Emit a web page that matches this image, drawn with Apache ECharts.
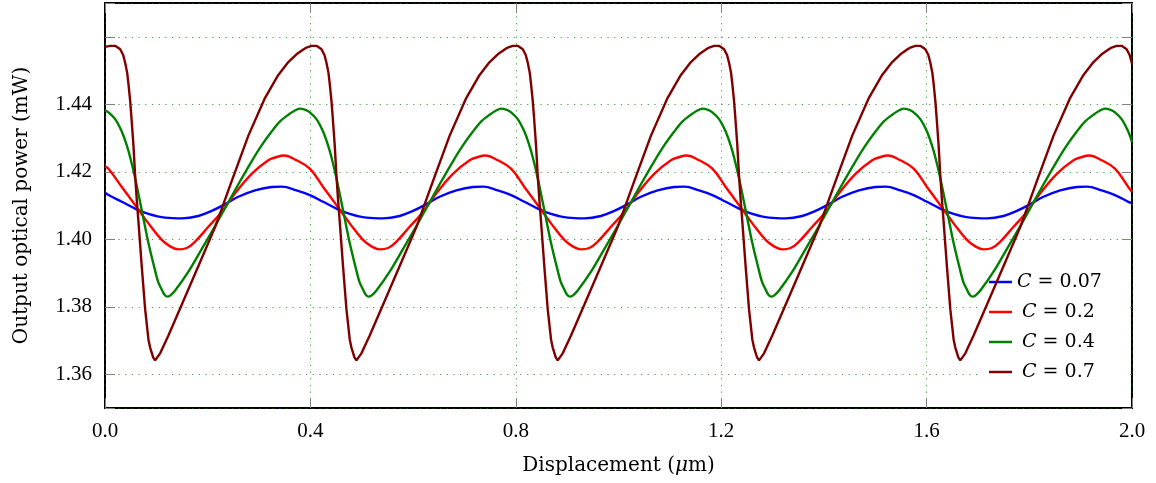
<!DOCTYPE html>
<html>
<head>
<meta charset="utf-8">
<script src="https://cdn.jsdelivr.net/npm/echarts@6/dist/echarts.min.js"></script>
<style>html,body{margin:0;padding:0;background:#fff;}#c{width:1156px;height:483px;}</style>
</head>
<body>
<div id="c"></div>
<script>
// ---- data: [displacement (um), power (mW)] ----
const seriesNames = ['C = 0.07', 'C = 0.2', 'C = 0.4', 'C = 0.7'];
const seriesColors = ['#0000ff', '#ff0000', '#008000', '#800000'];
const xTicks = [0, 0.4, 0.8, 1.2, 1.6, 2.0];
const yTickLabels = [1.36, 1.38, 1.40, 1.42, 1.44];

const c007 = [
[0,1.4138],[0.0068,1.4131],[0.0327,1.4111],[0.0587,1.4091],[0.0846,1.4075],[0.1171,1.4064],[0.1494,1.4062],[0.1819,1.4069],[0.2078,1.4084],[0.2338,1.4104],[0.2597,1.4126],[0.2922,1.4145],[0.3245,1.4155],
[0.3443,1.4156],[0.3729,1.4145],[0.3988,1.4131],[0.4247,1.4111],[0.4507,1.4091],[0.4766,1.4075],[0.5091,1.4064],[0.5414,1.4062],[0.5739,1.4069],[0.5998,1.4084],[0.6258,1.4104],[0.6517,1.4126],[0.6842,1.4145],[0.7165,1.4155],
[0.7363,1.4156],[0.7649,1.4145],[0.7908,1.4131],[0.8167,1.4111],[0.8427,1.4091],[0.8686,1.4075],[0.9011,1.4064],[0.9334,1.4062],[0.9659,1.4069],[0.9918,1.4084],[1.0178,1.4104],[1.0437,1.4126],[1.0762,1.4145],[1.1085,1.4155],
[1.1283,1.4156],[1.1569,1.4145],[1.1828,1.4131],[1.2087,1.4111],[1.2347,1.4091],[1.2606,1.4075],[1.2931,1.4064],[1.3254,1.4062],[1.3579,1.4069],[1.3838,1.4084],[1.4098,1.4104],[1.4357,1.4126],[1.4682,1.4145],[1.5005,1.4155],
[1.5203,1.4156],[1.5489,1.4145],[1.5748,1.4131],[1.6007,1.4111],[1.6267,1.4091],[1.6526,1.4075],[1.6851,1.4064],[1.7174,1.4062],[1.7499,1.4069],[1.7758,1.4084],[1.8018,1.4104],[1.8277,1.4126],[1.8602,1.4145],[1.8925,1.4155],
[1.9123,1.4156],[1.9409,1.4145],[1.9668,1.4131],[1.9927,1.4111],[2.0,1.4108]
];

const c02 = [
[0,1.4216],[0.0068,1.4209],[0.0327,1.4155],[0.0587,1.4101],[0.0846,1.4047],[0.1105,1.3998],[0.1268,1.3979],[0.1430,1.3970],[0.1591,1.3974],[0.1755,1.3993],[0.2013,1.4037],[0.2272,1.4081],[0.2533,1.4136],[0.2856,1.4194],[0.3181,1.4234],[0.3331,1.4243],
[0.3482,1.4248],[0.3729,1.4234],[0.3988,1.4209],[0.4247,1.4155],[0.4507,1.4101],[0.4766,1.4047],[0.5025,1.3998],[0.5188,1.3979],[0.5350,1.3970],[0.5511,1.3974],[0.5675,1.3993],[0.5933,1.4037],[0.6192,1.4081],[0.6453,1.4136],[0.6776,1.4194],[0.7101,1.4234],[0.7251,1.4243],
[0.7402,1.4248],[0.7649,1.4234],[0.7908,1.4209],[0.8167,1.4155],[0.8427,1.4101],[0.8686,1.4047],[0.8945,1.3998],[0.9108,1.3979],[0.9270,1.3970],[0.9431,1.3974],[0.9595,1.3993],[0.9853,1.4037],[1.0112,1.4081],[1.0373,1.4136],[1.0696,1.4194],[1.1021,1.4234],[1.1171,1.4243],
[1.1322,1.4248],[1.1569,1.4234],[1.1828,1.4209],[1.2087,1.4155],[1.2347,1.4101],[1.2606,1.4047],[1.2865,1.3998],[1.3028,1.3979],[1.3190,1.3970],[1.3351,1.3974],[1.3515,1.3993],[1.3773,1.4037],[1.4032,1.4081],[1.4293,1.4136],[1.4616,1.4194],[1.4941,1.4234],[1.5091,1.4243],
[1.5242,1.4248],[1.5489,1.4234],[1.5748,1.4209],[1.6007,1.4155],[1.6267,1.4101],[1.6526,1.4047],[1.6785,1.3998],[1.6948,1.3979],[1.7110,1.3970],[1.7271,1.3974],[1.7435,1.3993],[1.7693,1.4037],[1.7952,1.4081],[1.8213,1.4136],[1.8536,1.4194],[1.8861,1.4234],[1.9011,1.4243],
[1.9162,1.4248],[1.9409,1.4234],[1.9668,1.4209],[1.9927,1.4155],[2.0,1.4140]
];

const c04 = [
[0,1.4382],[0.0068,1.4376],[0.0198,1.4356],[0.0327,1.4319],[0.0424,1.4278],[0.0490,1.4243],[0.0587,1.4181],[0.0716,1.4086],[0.0846,1.3989],[0.0976,1.3907],[0.1035,1.3874],[0.1105,1.3851],[0.1152,1.3837],[0.1210,1.3830],[0.1268,1.3833],[0.1366,1.3848],[0.1624,1.3904],[0.1883,1.3971],[0.2144,1.4039],[0.2338,1.4092],[0.2597,1.4163],[0.2856,1.4231],[0.3050,1.4278],[0.3245,1.4319],[0.3408,1.4349],[0.3570,1.4369],[0.3681,1.4380],
[0.3793,1.4387],[0.3904,1.4383],[0.3988,1.4376],[0.4118,1.4356],[0.4247,1.4319],[0.4344,1.4278],[0.4410,1.4243],[0.4507,1.4181],[0.4636,1.4086],[0.4766,1.3989],[0.4896,1.3907],[0.4955,1.3874],[0.5025,1.3851],[0.5072,1.3837],[0.5130,1.3830],[0.5188,1.3833],[0.5286,1.3848],[0.5544,1.3904],[0.5803,1.3971],[0.6064,1.4039],[0.6258,1.4092],[0.6517,1.4163],[0.6776,1.4231],[0.6970,1.4278],[0.7165,1.4319],[0.7328,1.4349],[0.7490,1.4369],[0.7601,1.4380],
[0.7713,1.4387],[0.7824,1.4383],[0.7908,1.4376],[0.8038,1.4356],[0.8167,1.4319],[0.8264,1.4278],[0.8330,1.4243],[0.8427,1.4181],[0.8556,1.4086],[0.8686,1.3989],[0.8816,1.3907],[0.8875,1.3874],[0.8945,1.3851],[0.8992,1.3837],[0.9050,1.3830],[0.9108,1.3833],[0.9206,1.3848],[0.9464,1.3904],[0.9723,1.3971],[0.9984,1.4039],[1.0178,1.4092],[1.0437,1.4163],[1.0696,1.4231],[1.0890,1.4278],[1.1085,1.4319],[1.1248,1.4349],[1.1410,1.4369],[1.1521,1.4380],
[1.1633,1.4387],[1.1744,1.4383],[1.1828,1.4376],[1.1958,1.4356],[1.2087,1.4319],[1.2184,1.4278],[1.2250,1.4243],[1.2347,1.4181],[1.2476,1.4086],[1.2606,1.3989],[1.2736,1.3907],[1.2795,1.3874],[1.2865,1.3851],[1.2912,1.3837],[1.2970,1.3830],[1.3028,1.3833],[1.3126,1.3848],[1.3384,1.3904],[1.3643,1.3971],[1.3904,1.4039],[1.4098,1.4092],[1.4357,1.4163],[1.4616,1.4231],[1.4810,1.4278],[1.5005,1.4319],[1.5168,1.4349],[1.5330,1.4369],[1.5441,1.4380],
[1.5553,1.4387],[1.5664,1.4383],[1.5748,1.4376],[1.5878,1.4356],[1.6007,1.4319],[1.6104,1.4278],[1.6170,1.4243],[1.6267,1.4181],[1.6396,1.4086],[1.6526,1.3989],[1.6656,1.3907],[1.6715,1.3874],[1.6785,1.3851],[1.6832,1.3837],[1.6890,1.3830],[1.6948,1.3833],[1.7046,1.3848],[1.7304,1.3904],[1.7563,1.3971],[1.7824,1.4039],[1.8018,1.4092],[1.8277,1.4163],[1.8536,1.4231],[1.8730,1.4278],[1.8925,1.4319],[1.9088,1.4349],[1.9250,1.4369],[1.9361,1.4380],
[1.9473,1.4387],[1.9584,1.4383],[1.9668,1.4376],[1.9798,1.4356],[1.9927,1.4319],[2.0,1.4288]
];

const c07 = [
[0,1.4570],[0.0101,1.4573],[0.0198,1.4573],[0.0296,1.4563],[0.0354,1.4546],[0.0393,1.4523],[0.0432,1.4493],[0.0457,1.4460],[0.0490,1.4410],[0.0510,1.4371],[0.0529,1.4331],[0.0554,1.4278],[0.0587,1.4189],[0.0619,1.4116],[0.0652,1.4051],[0.0716,1.3919],[0.0782,1.3792],[0.0846,1.3703],[0.0879,1.3679],[0.0938,1.3650],[0.0976,1.3641],[0.1074,1.3662],[0.1235,1.3715],[0.1494,1.3806],[0.1819,1.3921],[0.2144,1.4036],[0.2467,1.4172],[0.2792,1.4307],[0.3117,1.4419],[0.3375,1.4487],[0.3570,1.4525],[0.3729,1.4548],[0.3862,1.4562],[0.3924,1.4568],
[0.4021,1.4573],[0.4118,1.4573],[0.4216,1.4563],[0.4274,1.4546],[0.4313,1.4523],[0.4352,1.4493],[0.4377,1.4460],[0.4410,1.4410],[0.4430,1.4371],[0.4449,1.4331],[0.4474,1.4278],[0.4507,1.4189],[0.4539,1.4116],[0.4572,1.4051],[0.4636,1.3919],[0.4702,1.3792],[0.4766,1.3703],[0.4799,1.3679],[0.4858,1.3650],[0.4896,1.3641],[0.4994,1.3662],[0.5155,1.3715],[0.5414,1.3806],[0.5739,1.3921],[0.6064,1.4036],[0.6387,1.4172],[0.6712,1.4307],[0.7037,1.4419],[0.7295,1.4487],[0.7490,1.4525],[0.7649,1.4548],[0.7782,1.4562],[0.7844,1.4568],
[0.7941,1.4573],[0.8038,1.4573],[0.8136,1.4563],[0.8194,1.4546],[0.8233,1.4523],[0.8272,1.4493],[0.8297,1.4460],[0.8330,1.4410],[0.8350,1.4371],[0.8369,1.4331],[0.8394,1.4278],[0.8427,1.4189],[0.8459,1.4116],[0.8492,1.4051],[0.8556,1.3919],[0.8622,1.3792],[0.8686,1.3703],[0.8719,1.3679],[0.8778,1.3650],[0.8816,1.3641],[0.8914,1.3662],[0.9075,1.3715],[0.9334,1.3806],[0.9659,1.3921],[0.9984,1.4036],[1.0307,1.4172],[1.0632,1.4307],[1.0957,1.4419],[1.1215,1.4487],[1.1410,1.4525],[1.1569,1.4548],[1.1702,1.4562],[1.1764,1.4568],
[1.1861,1.4573],[1.1958,1.4573],[1.2056,1.4563],[1.2114,1.4546],[1.2153,1.4523],[1.2192,1.4493],[1.2217,1.4460],[1.2250,1.4410],[1.2270,1.4371],[1.2289,1.4331],[1.2314,1.4278],[1.2347,1.4189],[1.2379,1.4116],[1.2412,1.4051],[1.2476,1.3919],[1.2542,1.3792],[1.2606,1.3703],[1.2639,1.3679],[1.2698,1.3650],[1.2736,1.3641],[1.2834,1.3662],[1.2995,1.3715],[1.3254,1.3806],[1.3579,1.3921],[1.3904,1.4036],[1.4227,1.4172],[1.4552,1.4307],[1.4877,1.4419],[1.5135,1.4487],[1.5330,1.4525],[1.5489,1.4548],[1.5622,1.4562],[1.5684,1.4568],
[1.5781,1.4573],[1.5878,1.4573],[1.5976,1.4563],[1.6034,1.4546],[1.6073,1.4523],[1.6112,1.4493],[1.6137,1.4460],[1.6170,1.4410],[1.6190,1.4371],[1.6209,1.4331],[1.6234,1.4278],[1.6267,1.4189],[1.6299,1.4116],[1.6332,1.4051],[1.6396,1.3919],[1.6462,1.3792],[1.6526,1.3703],[1.6559,1.3679],[1.6618,1.3650],[1.6656,1.3641],[1.6754,1.3662],[1.6915,1.3715],[1.7174,1.3806],[1.7499,1.3921],[1.7824,1.4036],[1.8147,1.4172],[1.8472,1.4307],[1.8797,1.4419],[1.9055,1.4487],[1.9250,1.4525],[1.9409,1.4548],[1.9542,1.4562],[1.9604,1.4568],
[1.9701,1.4573],[1.9798,1.4573],[1.9896,1.4563],[1.9954,1.4546],[2.0,1.4520]
];

const seriesData = [c007, c02, c04, c07];
const seriesSmooth = [0.4, 0.4, 0.3, false];

// ---- chart ----
const chart = echarts.init(document.getElementById('c'), null, {renderer: 'canvas'});
const gridDot = {color: 'rgba(0,128,0,0.75)', width: 1, type: [1.2, 5.5]};
const tickStyle = () => ({show: true, inside: true, length: 10, lineStyle: {color: '#808080', width: 1}});
const tickFont = {fontFamily: 'Liberation Serif', fontSize: 21, color: '#000'};

function yLabel(v) {
  for (const t of yTickLabels) { if (Math.abs(v - t) < 1e-6) return t.toFixed(2); }
  return '';
}

const option = {
  animation: false,
  backgroundColor: '#fff',
  grid: {left: 105, top: 3, width: 1027, height: 405, show: true, borderColor: '#000', borderWidth: 2, backgroundColor: 'transparent'},
  xAxis: [
    {type: 'value', min: xTicks[0], max: xTicks[xTicks.length - 1], interval: 0.4, position: 'bottom',
     axisLine: {show: false, onZero: false}, axisTick: tickStyle(),
     axisLabel: Object.assign({margin: 13, formatter: v => v.toFixed(1)}, tickFont),
     splitLine: {show: true, lineStyle: gridDot},
     name: 'Displacement ({i|\u03bc}m)', nameLocation: 'middle', nameGap: 48,
     nameTextStyle: {fontFamily: 'DejaVu Serif', fontSize: 20, color: '#000',
       rich: {i: {fontFamily: 'DejaVu Serif', fontStyle: 'italic', fontSize: 20, color: '#000'}}}},
    {type: 'value', min: xTicks[0], max: xTicks[xTicks.length - 1], interval: 0.4, position: 'top',
     axisLine: {show: false, onZero: false}, axisTick: tickStyle(), axisLabel: {show: false}, splitLine: {show: false}}
  ],
  yAxis: [
    {type: 'value', min: 1.35, max: 1.47, splitNumber: 6, position: 'left',
     axisLine: {show: false, onZero: false}, axisTick: tickStyle(),
     axisLabel: Object.assign({margin: 13, formatter: yLabel}, tickFont),
     splitLine: {show: true, lineStyle: gridDot},
     name: 'Output optical power (mW)', nameLocation: 'middle', nameGap: 73,
     nameTextStyle: {fontFamily: 'DejaVu Serif', fontSize: 20, color: '#000'}},
    {type: 'value', min: 1.35, max: 1.47, splitNumber: 6, position: 'right',
     axisLine: {show: false, onZero: false}, axisTick: tickStyle(), axisLabel: {show: false}, splitLine: {show: false}}
  ],
  legend: {
    orient: 'vertical', left: 980, top: 262, padding: [10, 28, 10, 9],
    backgroundColor: '#fff', borderWidth: 0, icon: 'rect', itemWidth: 23, itemHeight: 2.5, itemGap: 10,
    data: seriesNames,
    formatter: function (name) {
      const val = name.split('= ')[1];
      return (val.length < 4 ? '{s| }' : '') + '{i|C}{t| = ' + val + '}';
    },
    textStyle: {fontFamily: 'DejaVu Serif', fontSize: 19, color: '#000', lineHeight: 20,
      rich: {
        i: {fontFamily: 'DejaVu Serif', fontStyle: 'italic', fontSize: 19, color: '#000', lineHeight: 20},
        t: {fontFamily: 'DejaVu Serif', fontSize: 19, color: '#000', lineHeight: 20},
        s: {width: 5, lineHeight: 20}
      }}
  },
  series: seriesNames.map((n, i) => ({
    name: n, type: 'line', xAxisIndex: 0, yAxisIndex: 0,
    data: seriesData[i], showSymbol: false, symbol: 'none',
    smooth: seriesSmooth[i],
    lineStyle: {color: seriesColors[i], width: 2.4}, itemStyle: {color: seriesColors[i]},
    z: 2 + i
  }))
};
chart.setOption(option);
</script>
</body>
</html>
